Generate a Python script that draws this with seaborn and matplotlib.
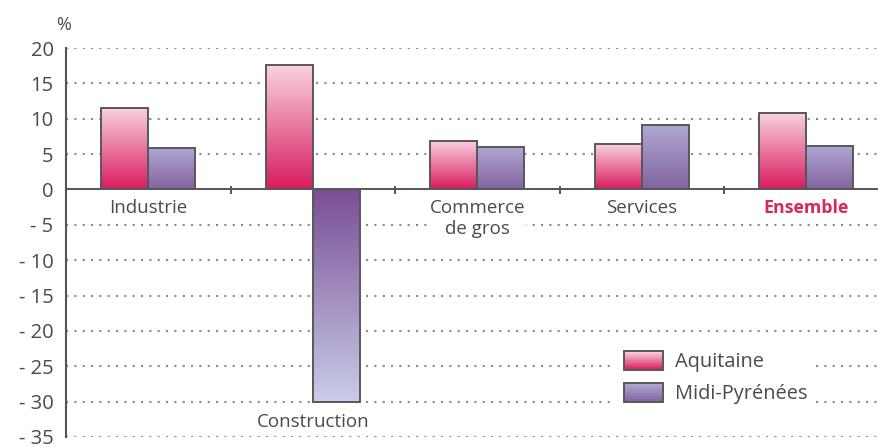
import numpy as np
import pandas as pd
import matplotlib
matplotlib.use("Agg")
import matplotlib.pyplot as plt
import seaborn as sns
from matplotlib.colors import LinearSegmentedColormap, to_rgb
from matplotlib.patches import Rectangle
from matplotlib.legend_handler import HandlerBase

categories = ["Industrie", "Construction", "Commerce\nde gros", "Services", "Ensemble"]
series = ["Aquitaine", "Midi-Pyrénées"]
aquitaine = [11.5, 17.6, 6.9, 6.4, 10.8]
midi_pyrenees = [5.9, -30.0, 6.0, 9.1, 6.2]
yticks = list(range(-35, 21, 5))
ytick_labels = [str(v) if v >= 0 else f"- {abs(v)}" for v in yticks]

df = pd.DataFrame({
    "cat": categories * 2,
    "serie": [series[0]] * len(categories) + [series[1]] * len(categories),
    "val": aquitaine + midi_pyrenees,
})

sns.set_theme(style="white")
plt.rcParams["font.family"] = ["Open Sans", "DejaVu Sans"]
TXT = "#4a4a4a"
EDGE = "#585858"

# gradient (base colour at zero, tip colour at bar end)
grad_pos = {0: ("#d81c5f", "#fad3e2"), 1: ("#82649e", "#b0a8d4")}
grad_neg = {0: ("#d81c5f", "#fad3e2"), 1: ("#7a4e95", "#c9cde9")}

fig = plt.figure(figsize=(8.79, 4.47), dpi=100)
ax = fig.add_axes([66 / 879, 10 / 447, 813 / 879, 389 / 447])

sns.barplot(data=df, x="cat", y="val", hue="serie", order=categories,
            hue_order=series, palette=["#e8708f", "#9b86b8"], width=0.57,
            errorbar=None, legend=False, edgecolor=EDGE, linewidth=1.4,
            ax=ax, zorder=3)

for i, cont in enumerate(ax.containers):
    for p in cont.patches:
        x, y, w, h = p.get_x(), p.get_y(), p.get_width(), p.get_height()
        base, tip = (grad_pos if h >= 0 else grad_neg)[i]
        cmap = LinearSegmentedColormap.from_list(f"g{i}", [base, tip])
        y0, y1 = min(y, y + h), max(y, y + h)
        g = np.linspace(0, 1, 256).reshape(-1, 1)
        arr = g if h >= 0 else g[::-1]
        im = ax.imshow(arr, cmap=cmap, extent=[x, x + w, y0, y1], origin="lower",
                       aspect="auto", zorder=2.9, interpolation="bilinear")
        im.set_clip_path(p)
        p.set_facecolor("none")

ax.set_xlim(-0.5, -0.5 + 813 / 164.5)
ax.set_ylim(-35, 20)
ax.set_yticks(yticks)
ax.set_yticklabels(ytick_labels, color=TXT, fontsize=14.5)
ax.tick_params(axis="y", length=0, pad=9)
ax.set_xticks([])
ax.set_xlabel("")
ax.set_ylabel("")

for v in yticks:
    if v != 0:
        ax.axhline(v, color="#8a8a8a", lw=1.5, ls=(0, (1, 3)), zorder=1)
ax.axhline(0, color="#555555", lw=1.4, zorder=2)
ax.vlines([0.5, 1.5, 2.5, 3.5], -0.6, 0.5, color="#555555", lw=1.4, zorder=2)

for s in ["top", "right", "bottom"]:
    ax.spines[s].set_visible(False)
ax.spines["left"].set_color("#555555")
ax.spines["left"].set_linewidth(1.5)

label_y = [-1.35, -31.6, -1.35, -1.35, -1.35]
for i, (c, ly) in enumerate(zip(categories, label_y)):
    if c == "Ensemble":
        ax.text(i, ly, c, ha="center", va="top", fontsize=12.8, color="#d42a5c",
                fontweight="bold", zorder=4)
    else:
        ax.text(i, ly, c, ha="center", va="top", fontsize=13.5, color=TXT,
                linespacing=1.2, zorder=4,
                bbox=dict(facecolor="white", edgecolor="none", pad=0.5))

fig.text(64 / 879, 1 - 25 / 447, "%", ha="center", va="center", fontsize=13, color=TXT)


class GradHandler(HandlerBase):
    def __init__(self, base, tip):
        super().__init__()
        self.base, self.tip = np.array(to_rgb(base)), np.array(to_rgb(tip))

    def create_artists(self, legend, orig_handle, xdescent, ydescent, width,
                       height, fontsize, trans):
        n = 24
        arts = []
        for k in range(n):
            t = k / (n - 1)
            col = self.base * (1 - t) + self.tip * t
            arts.append(Rectangle((-xdescent, -ydescent + height * k / n), width,
                                  height / n + 0.3, facecolor=col, edgecolor="none",
                                  transform=trans))
        arts.append(Rectangle((-xdescent, -ydescent), width, height, facecolor="none",
                              edgecolor=EDGE, lw=1.4, transform=trans))
        return arts


h1, h2 = Rectangle((0, 0), 1, 1), Rectangle((0, 0), 1, 1)
fs = 14.4
px = fs * 100 / 72
leg = ax.legend([h1, h2], series, loc="upper left", bbox_to_anchor=(0.6645, 0.267),
                frameon=True, fontsize=fs, handlelength=39 / px, handleheight=21 / px,
                handletextpad=12 / px, labelspacing=0.55, borderpad=0.4,
                handler_map={h1: GradHandler(*grad_pos[0]), h2: GradHandler(*grad_pos[1])})
leg.get_frame().set_facecolor("white")
leg.get_frame().set_edgecolor("none")
leg.get_frame().set_alpha(1)
for t in leg.get_texts():
    t.set_color(TXT)

fig.savefig("out.png", dpi=100)
